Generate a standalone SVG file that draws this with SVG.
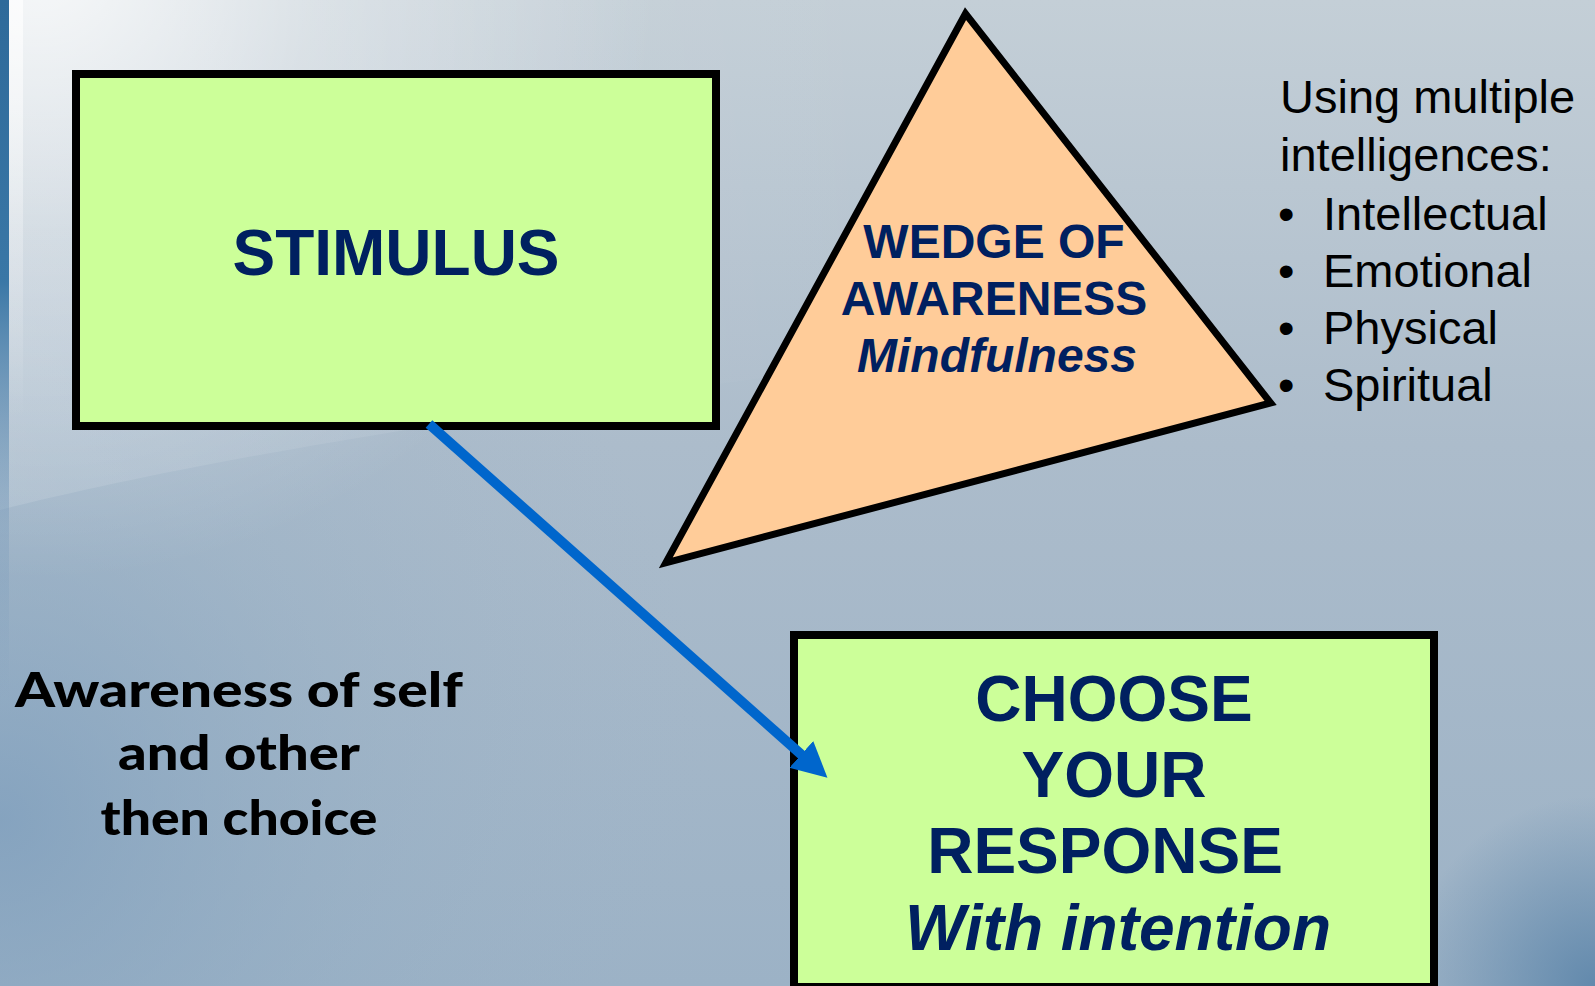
<svg xmlns="http://www.w3.org/2000/svg" width="1595" height="986" viewBox="0 0 1595 986">
  <defs>
    <style>
      .box { fill: #CCFF99; stroke: #000000; stroke-width: 8; }
      .wedge { fill: #FFCC99; stroke: #000000; stroke-width: 7; stroke-linejoin: miter; stroke-miterlimit: 10; }
      .title { font-family: "Liberation Sans", Arial, sans-serif; font-weight: bold; fill: #002060; text-anchor: middle; }
      .ital { font-style: italic; }
      .list { font-family: "Liberation Sans", Arial, sans-serif; font-size: 47px; fill: #000000; }
      .note { font-family: Lato, "Open Sans", sans-serif; font-weight: 900; font-size: 47px; fill: #000000; text-anchor: middle; }
      .link { stroke: #0066CC; stroke-width: 10; fill: none; }
    </style>
    <linearGradient id="bgV" x1="0" y1="0" x2="0" y2="1">
      <stop offset="0" stop-color="#c4cfd7"/>
      <stop offset="0.45" stop-color="#acbccb"/>
      <stop offset="1" stop-color="#9cb2c6"/>
    </linearGradient>
    <radialGradient id="bgLeft" cx="0" cy="820" r="720" gradientUnits="userSpaceOnUse">
      <stop offset="0" stop-color="#7c9dbc" stop-opacity="0.75"/>
      <stop offset="0.5" stop-color="#8eaac2" stop-opacity="0.3"/>
      <stop offset="1" stop-color="#9fb4c8" stop-opacity="0"/>
    </radialGradient>
    <radialGradient id="glow" cx="40" cy="-40" r="620" gradientUnits="userSpaceOnUse">
      <stop offset="0" stop-color="#ffffff" stop-opacity="0.85"/>
      <stop offset="0.45" stop-color="#ffffff" stop-opacity="0.35"/>
      <stop offset="1" stop-color="#ffffff" stop-opacity="0"/>
    </radialGradient>
    <radialGradient id="corner" cx="1595" cy="986" r="190" gradientUnits="userSpaceOnUse">
      <stop offset="0" stop-color="#5f87ab" stop-opacity="0.95"/>
      <stop offset="1" stop-color="#5f87ab" stop-opacity="0"/>
    </radialGradient>
    <linearGradient id="strip" x1="0" y1="0" x2="0" y2="1">
      <stop offset="0" stop-color="#2e6a9a"/>
      <stop offset="0.4" stop-color="#3a77a6"/>
      <stop offset="0.75" stop-color="#7a9cbc" stop-opacity="0.4"/>
      <stop offset="1" stop-color="#7a9cbc" stop-opacity="0"/>
    </linearGradient>
    <linearGradient id="highlight" x1="0" y1="0" x2="0" y2="1">
      <stop offset="0" stop-color="#ffffff" stop-opacity="0.7"/>
      <stop offset="0.5" stop-color="#ffffff" stop-opacity="0.3"/>
      <stop offset="1" stop-color="#ffffff" stop-opacity="0"/>
    </linearGradient>
    <linearGradient id="sheen" x1="0" y1="0" x2="1" y2="0">
      <stop offset="0" stop-color="#ffffff" stop-opacity="0.12"/>
      <stop offset="0.6" stop-color="#ffffff" stop-opacity="0.05"/>
      <stop offset="1" stop-color="#ffffff" stop-opacity="0"/>
    </linearGradient>
    <marker id="head" markerUnits="userSpaceOnUse" markerWidth="40" markerHeight="40" viewBox="0 -20 40 40" refX="3" refY="0" orient="auto">
      <path d="M0,-18 L35,0 L0,18 Z" fill="#0066CC"/>
    </marker>
  </defs>

  <!-- backdrop -->
  <g id="background">
    <rect x="0" y="0" width="1595" height="986" fill="url(#bgV)"/>
    <rect x="0" y="0" width="1595" height="986" fill="url(#bgLeft)"/>
    <path d="M0,510 C180,465 430,420 900,360 L900,0 L0,0 Z" fill="url(#sheen)"/>
    <rect x="0" y="0" width="1595" height="986" fill="url(#glow)"/>
    <rect x="0" y="0" width="9" height="700" fill="url(#strip)"/>
    <rect x="9" y="0" width="14" height="420" fill="url(#highlight)"/>
    <rect x="0" y="0" width="1595" height="986" fill="url(#corner)"/>
  </g>

  <g id="stimulus">
    <rect class="box" x="76" y="74" width="640" height="352"/>
    <text class="title" x="396" y="275" font-size="64">STIMULUS</text>
  </g>

  <g id="wedge">
    <polygon class="wedge" points="965.5,13.7 1270.7,403 665.8,562.9"/>
    <text class="title" x="994" y="258" font-size="48">WEDGE OF</text>
    <text class="title" x="994" y="315" font-size="48">AWARENESS</text>
    <text class="title ital" x="997" y="372" font-size="48">Mindfulness</text>
  </g>

  <g id="intelligences">
    <text class="list" x="1280" y="113">Using multiple</text>
    <text class="list" x="1280" y="171">intelligences:</text>
    <text class="list" x="1278" y="230">•</text>
    <text class="list" x="1323" y="230">Intellectual</text>
    <text class="list" x="1278" y="287">•</text>
    <text class="list" x="1323" y="287">Emotional</text>
    <text class="list" x="1278" y="344">•</text>
    <text class="list" x="1323" y="344">Physical</text>
    <text class="list" x="1278" y="401">•</text>
    <text class="list" x="1323" y="401">Spiritual</text>
  </g>

  <g id="awareness-note">
    <text class="note" x="239" y="707" textLength="448" lengthAdjust="spacingAndGlyphs">Awareness of self</text>
    <text class="note" x="239" y="770" textLength="242" lengthAdjust="spacingAndGlyphs">and other</text>
    <text class="note" x="239" y="835" textLength="277" lengthAdjust="spacingAndGlyphs">then choice</text>
  </g>

  <g id="response">
    <rect class="box" x="794" y="635" width="640" height="352"/>
    <text class="title" x="1114" y="721" font-size="64">CHOOSE</text>
    <text class="title" x="1114" y="797" font-size="64">YOUR</text>
    <text class="title" x="1105" y="873" font-size="64">RESPONSE</text>
    <text class="title ital" x="1118" y="950" font-size="64">With intention</text>
  </g>

  <!-- connectors, drawn over the boxes they touch -->
  <g id="connectors">
    <line class="link" x1="429" y1="424" x2="803.5" y2="756.4" marker-end="url(#head)"/>
  </g>
</svg>
